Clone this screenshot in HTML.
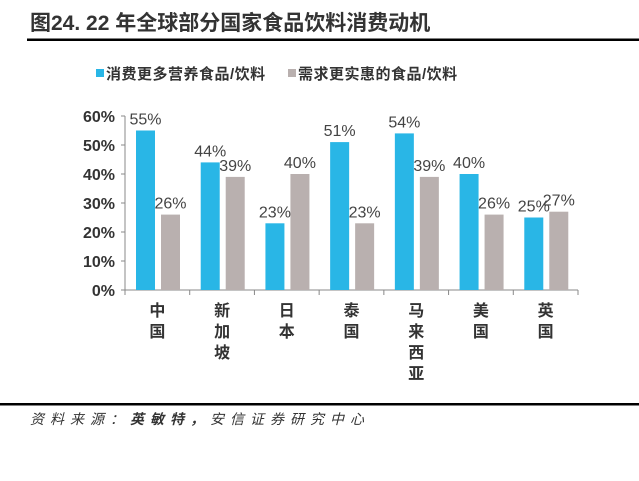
<!DOCTYPE html>
<html><head><meta charset="utf-8"><style>
body{margin:0;width:639px;height:476px;background:#fff;overflow:hidden;font-family:"Liberation Sans","Noto Sans CJK SC",sans-serif}
</style></head><body>
<svg width="639" height="476">
<text x="30" y="30" font-size="21" font-weight="bold" fill="#333" font-family="Liberation Sans,Noto Sans CJK SC,sans-serif">图24. 22 年全球部分国家食品饮料消费动机</text>
<rect x="27" y="38.5" width="612" height="2.5" fill="#000"/>
<g font-size="15" font-weight="bold" fill="#333">
<rect x="96" y="69" width="8" height="8" fill="#29b6e6"/>
<text x="106" y="79" letter-spacing="0.5">消费更多营养食品/饮料</text>
<rect x="288" y="69" width="8" height="8" fill="#b9b0af"/>
<text x="298" y="79" letter-spacing="0.5">需求更实惠的食品/饮料</text>
</g>
<g id="plot"></g>
<rect x="0" y="403" width="639" height="2.5" fill="#000"/>
<text x="30" y="424" font-size="14" font-style="italic" letter-spacing="6" fill="#333">资料来源：<tspan font-weight="bold">英敏特，</tspan>安信证券研究中心</text>
</svg>
<script>
const categories=[["中","国"],["新","加","坡"],["日","本"],["泰","国"],["马","来","西","亚"],["美","国"],["英","国"]];
const seriesNutrition=[55,44,23,51,54,40,25];
const seriesValue=[26,39,40,23,39,26,27];
const yTicks=[0,10,20,30,40,50,60];
const NS="http://www.w3.org/2000/svg";
const g=document.getElementById('plot');
const x0=125,x1=578,y0=290,y60=116;
const cw=(x1-x0)/categories.length;
const yScale=v=>y0-(v/60)*(y0-y60);
const xCat=i=>x0+i*cw;
function mk(t,a,txt){const e=document.createElementNS(NS,t);for(const k in a)e.setAttribute(k,a[k]);if(txt!=null)e.textContent=txt;g.appendChild(e);return e;}
let e=mk('line',{x1:x0,y1:y60,x2:x0,y2:y0,stroke:'#888','stroke-width':1});


e=mk('line',{x1:x0,y1:y0,x2:x1,y2:y0,stroke:'#888','stroke-width':1});


yTicks.forEach(v=>{
 const y=yScale(v);
 let t=mk('line',{x1:x0-4,y1:y,x2:x0,y2:y,stroke:'#888'});
 
 
 let l=mk('text',{x:x0-10,y:y+6,'text-anchor':'end','font-size':16,'font-weight':'bold',fill:'#333'},v+'%');
 
 
});
for(let i=0;i<=categories.length;i++){
 let t=mk('line',{x1:xCat(i),y1:y0,x2:xCat(i),y2:y0+5,stroke:'#888'});
 
 
}
categories.forEach((c,i)=>{
 const bx=xCat(i)+11, gx=xCat(i)+36, w=19;
 const v1=seriesNutrition[i], v2=seriesValue[i];
 let b=mk('rect',{x:bx,y:yScale(v1),width:w,height:y0-yScale(v1),fill:'#29b6e6'});
 
 
 b=mk('rect',{x:gx,y:yScale(v2),width:w,height:y0-yScale(v2),fill:'#b9b0af'});
 
 
 let l=mk('text',{x:bx+w/2,y:yScale(v1)-6,'text-anchor':'middle','font-size':16,fill:'#444'},v1+'%');
 
 
 l=mk('text',{x:gx+w/2,y:yScale(v2)-6,'text-anchor':'middle','font-size':16,fill:'#444'},v2+'%');
 
 
 c.forEach((ch,j)=>{
  let t=mk('text',{x:xCat(i)+cw/2,y:y0+26+j*21,'text-anchor':'middle','font-size':16,'font-weight':'bold',fill:'#333'},ch);
  
  
 });
});
</script>
</body></html>
